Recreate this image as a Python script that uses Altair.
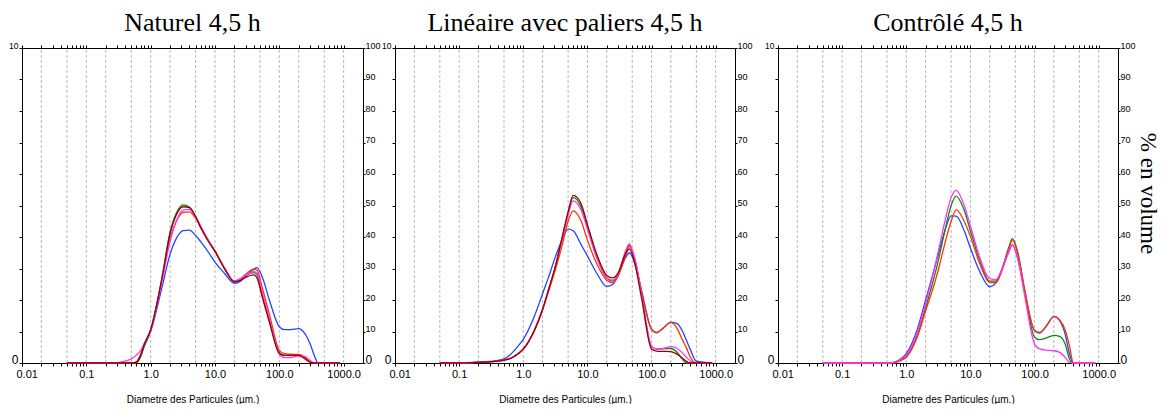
import altair as alt
import pandas as pd

# Particle diameters (µm) at which the curves are read
DIAM = [0.05, 0.1, 0.2, 0.3, 0.4, 0.5, 0.6, 0.7, 0.8, 1.0, 1.5, 2.0, 2.5, 3.2, 4.0, 5.0,
        6.0, 8.0, 10, 14, 20, 25, 30, 40, 45, 55, 70, 100, 120, 150, 200, 250, 300,
        350, 400, 500, 880]

SERIES = ["Mesure 1", "Mesure 2", "Mesure 3", "Mesure 4", "Mesure 5"]
COLORS = ["#2244ff", "#118811", "#ff3300", "#ff33ff", "#990000"]

# Naturel 4,5 h
N_BLUE = [0, 0, 0, 0, 0, 0, 0.2, 2.5, 5.5, 10, 24, 34.5, 39.5, 42, 42.2, 40.5, 38.5, 35, 32,
          28.5, 25.3, 26, 27.5, 29.8, 30.3, 27, 20, 11.5, 10.6, 10.6, 10.9, 9.3, 6.2, 2.4, 0, 0, 0]
N_GREEN = [0, 0, 0, 0, 0, 0, 0.1, 2, 5.5, 10.5, 27, 41.5, 47.5, 50.2, 49.5, 46.5, 43, 38.5, 35.5,
           30, 25.8, 26.5, 27.8, 28.7, 28, 21, 13.5, 3.4, 2.4, 2.5, 2.5, 1.6, 0.4, 0, 0, 0, 0]
N_RED = [0, 0, 0, 0, 0, 0, 0.4, 2.6, 6, 10.5, 26.5, 39.5, 45, 47.8, 48, 46, 43, 38.5, 35.5,
         30.2, 26, 26.8, 28.2, 29.8, 29.5, 23.5, 15.5, 4, 3, 2.8, 2.7, 1.8, 0.4, 0, 0, 0, 0]
N_MAG = [0, 0, 0, 0.1, 0.6, 1.3, 2.5, 4, 6.3, 10.5, 26, 38.5, 45, 48.5, 48.8, 46.5, 43.5, 38.8, 35.5,
         30.3, 26, 26.7, 27.8, 29, 28.5, 22, 14, 2.9, 1.7, 1.7, 2.3, 2.1, 0.8, 0.1, 0, 0, 0]
N_DARK = [0, 0, 0, 0, 0, 0, 0.3, 2.5, 6, 10.5, 27, 41, 47, 49.6, 49.3, 46.5, 43, 38.5, 35.5,
          30, 25.8, 26.2, 27.2, 28, 27, 20.5, 13, 3, 2.4, 2.4, 2.4, 1.3, 0.3, 0, 0, 0, 0]

# Linéaire avec paliers 4,5 h
L_BLUE = [0, 0.1, 0.3, 0.5, 0.8, 1.3, 2.3, 3.6, 5, 7.5, 15, 22, 27.5, 34, 39, 42.5, 42, 37.5, 34,
          28.5, 24.3, 25, 28, 33.7, 35, 31.5, 23, 10.7, 9.7, 11, 13, 12.5, 10.3, 7.2, 4.4, 0.6, 0]
L_GREEN = [0, 0, 0.2, 0.4, 0.6, 0.9, 1.3, 1.9, 2.7, 4.4, 10.5, 17, 23.5, 31, 39.5, 47.5, 52.5, 49.5, 43,
           33.5, 27, 26, 28, 35.5, 37.3, 32.5, 21.5, 5.2, 4.5, 4.5, 4.6, 3.4, 1.3, 0, 0, 0, 0]
L_RED = [0, 0, 0.2, 0.4, 0.6, 0.9, 1.3, 2, 2.8, 4.5, 10.5, 17, 23, 30, 37, 45, 48.3, 45, 39,
         31.5, 26.3, 25.5, 27.5, 34.5, 37, 33, 22.5, 10.7, 9.6, 11, 12.8, 11, 7.5, 4.8, 2, 0, 0]
L_MAG = [0, 0, 0.2, 0.4, 0.6, 0.9, 1.3, 1.9, 2.7, 4.4, 10.5, 17, 23.5, 31, 39, 47, 51.5, 48.5, 42.5,
         33.5, 27, 26.3, 28.2, 36, 37.9, 33, 21.5, 5.3, 4.4, 4.6, 5.2, 4.6, 3.3, 1.8, 0.7, 0, 0]
L_DARK = [0, 0, 0.2, 0.4, 0.6, 0.9, 1.3, 1.9, 2.7, 4.4, 10.5, 17, 23.5, 31, 39.5, 48, 53.2, 50.5, 44,
          34.5, 27.8, 27, 28.5, 35, 36.2, 31.5, 20.5, 4.4, 3.8, 3.7, 3.6, 2.8, 1.6, 0.5, 0, 0, 0]

# Contrôlé 4,5 h
C_BLUE = [0, 0, 0, 0, 0, 0, 0.1, 0.5, 1.2, 3, 11, 20, 27, 35, 42, 46.7, 46.6, 42, 36.5,
          29, 24.2, 25.5, 29, 35.5, 37.5, 33, 22.5, 10.3, 9.5, 11.5, 14.7, 13.2, 9.2, 2.9, 0, 0, 0]
C_GREEN = [0, 0, 0, 0, 0, 0, 0, 0.3, 0.9, 2, 9, 17.5, 24.5, 33, 42, 50, 53, 48.5, 42,
           32.5, 26, 26, 29, 37, 39.5, 35, 23, 8.2, 7.4, 7.9, 8.8, 8.4, 6, 1.3, 0, 0, 0]
C_RED = [0, 0, 0, 0, 0, 0, 0, 0.2, 0.7, 1.8, 8.5, 16.5, 22.5, 30, 38, 45, 48.6, 45, 40.2,
         31.5, 25.5, 25.5, 28.5, 36.5, 39, 34.5, 23.5, 10.3, 9.7, 11.5, 14.8, 13.5, 10.5, 5.5, 0.2, 0, 0]
C_MAG = [0, 0, 0, 0, 0, 0, 0.1, 0.4, 1.1, 2.5, 10, 19, 26.5, 36, 45, 52.5, 54.8, 50, 43.5,
         33.5, 26.8, 26.5, 29, 35.5, 37.6, 33, 21.5, 6, 4.5, 4.1, 3.9, 3.3, 1.8, 0.2, 0, 0, 0]

TITLES = ["Naturel 4,5 h", "Linéaire avec paliers 4,5 h", "Contrôlé 4,5 h"]
X_TITLE = "Diametre des Particules (µm.)"
Y_RIGHT_TITLE = "% en volume"

GRID_VALUES = [0.02, 0.05, 0.1, 0.2, 0.5, 1, 2, 5, 10, 20, 50, 100, 200, 500, 1000]
MINOR_TICKS = [round(k * 10.0 ** e, 6) for e in range(-2, 3) for k in range(1, 10)] + [1000]
XLABEL_VALUES = [0.01, 0.1, 1, 10, 100, 1000]
XLABEL_TEXT = ["0.01", "0.1", "1.0", "10.0", "100.0", "1000.0"]
Y_TICKS = list(range(0, 101, 10))
X_DOMAIN = [0.01, 2000]
Y_DOMAIN = [0, 100]

FONT = "Liberation Sans"
SERIF = "Liberation Serif"


def long_df(series):
    rows = []
    for name, vals in series.items():
        for d, v in zip(DIAM, vals):
            rows.append({"d": d, "v": v, "serie": name})
    return pd.DataFrame(rows)


label_expr = " : ".join(
    f"datum.value == {v} ? '{t}'" for v, t in zip(XLABEL_VALUES, XLABEL_TEXT)) + " : ''"


def panel(title, series, w, h, right_title=None, left_gap=False):
    xs = alt.Scale(type="log", domain=X_DOMAIN, nice=False)
    ys = alt.Scale(domain=Y_DOMAIN, nice=False)
    gdf = pd.DataFrame({"g": GRID_VALUES, "y0": Y_DOMAIN[0], "y1": Y_DOMAIN[1]})
    tdf = pd.DataFrame({"t": MINOR_TICKS, "y0": Y_DOMAIN[0]})
    ydf = pd.DataFrame({"y": Y_TICKS, "x0": X_DOMAIN[1]})

    bottom_axis = alt.Axis(orient="bottom", values=MINOR_TICKS, labelExpr=label_expr,
                           labelOverlap=False, labelFontSize=11, labelFont=FONT,
                           labelColor="black", labelPadding=2, tickSize=3,
                           labelFlushOffset=6,
                           title=X_TITLE, titleFont=FONT, titleFontSize=10,
                           titleFontWeight="normal", titleColor="black", titlePadding=15,
                           grid=False)
    top_axis = alt.Axis(orient="top", values=MINOR_TICKS, labels=False, tickSize=3,
                        title=None, grid=False)
    left_kwargs = dict(orient="left", values=Y_TICKS,
                       labelExpr="datum.value == 100 ? '10' : datum.value == 0 ? '0' : ''",
                       labelFontSize={"condition": {"test": "datum.value == 0", "value": 12},
                                      "value": 8.5},
                       labelBaseline="alphabetic", labelPadding=1, tickSize=3,
                       labelFont=FONT, labelColor="black", labelOverlap=False, grid=False)
    if left_gap:
        left_axis = alt.Axis(title="|", titleFontSize=8, titleOpacity=0, titlePadding=3,
                             **left_kwargs)
    else:
        left_axis = alt.Axis(title=None, **left_kwargs)
    right_kwargs = dict(orient="right", values=Y_TICKS,
                        labelFontSize={"condition": {"test": "datum.value == 0", "value": 12},
                                       "value": 9},
                        labelBaseline="alphabetic", labelPadding=0, tickSize=2,
                        labelFont=FONT, labelColor="black", labelOverlap=False, grid=False)
    if right_title:
        right_axis = alt.Axis(title=right_title, titleFont=SERIF, titleFontSize=23,
                              titleFontWeight="normal", titleColor="black", titleAngle=90,
                              titleAlign="center", titleBaseline="middle",
                              titleX=29, titleY=145, **right_kwargs)
    else:
        right_axis = alt.Axis(title=None, **right_kwargs)

    grid = alt.Chart(gdf).mark_rule(color="#b8b8b8", strokeDash=[3, 2], strokeWidth=1).encode(
        x=alt.X("g:Q", scale=xs, axis=None),
        y=alt.Y("y0:Q", scale=ys, axis=None), y2="y1:Q")
    bottom = alt.Chart(tdf).mark_point(opacity=0).encode(
        x=alt.X("t:Q", scale=xs, axis=bottom_axis),
        y=alt.Y("y0:Q", scale=ys, axis=None))
    top = alt.Chart(tdf).mark_point(opacity=0).encode(
        x=alt.X("t:Q", scale=xs, axis=top_axis),
        y=alt.Y("y0:Q", scale=ys, axis=None))
    lines = alt.Chart(long_df(series)).mark_line(interpolate="monotone", strokeWidth=1.3).encode(
        x=alt.X("d:Q", scale=xs, axis=None),
        y=alt.Y("v:Q", scale=ys, axis=left_axis),
        color=alt.Color("serie:N", scale=alt.Scale(domain=SERIES, range=COLORS), legend=None),
        order=alt.Order("d:Q"))
    right = alt.Chart(ydf).mark_point(opacity=0).encode(
        x=alt.X("x0:Q", scale=xs, axis=None),
        y=alt.Y("y:Q", scale=ys, axis=right_axis))

    return alt.layer(grid, lines, bottom, top, right).resolve_axis(
        x="independent", y="independent").properties(
        width=w, height=h,
        title=alt.TitleParams(title, font=SERIF, fontSize=26, fontWeight="normal",
                              color="black", anchor="middle", offset=5))


p1 = panel(TITLES[0], {"Mesure 1": N_BLUE, "Mesure 2": N_GREEN, "Mesure 3": N_RED,
                       "Mesure 4": N_MAG, "Mesure 5": N_DARK}, 341, 315)
p2 = panel(TITLES[1], {"Mesure 1": L_BLUE, "Mesure 2": L_GREEN, "Mesure 3": L_RED,
                       "Mesure 4": L_MAG, "Mesure 5": L_DARK}, 340, 315)
p3 = panel(TITLES[2], {"Mesure 1": C_BLUE, "Mesure 2": C_GREEN, "Mesure 3": C_RED,
                       "Mesure 4": C_MAG}, 340, 315, right_title=Y_RIGHT_TITLE, left_gap=True)

chart = alt.hconcat(p1, p2, p3, spacing=0).properties(
    padding={"left": 0, "top": 2, "right": 0, "bottom": 0}
).configure_view(stroke=None).configure_axis(
    domainColor="black", tickColor="black", domainWidth=1, tickWidth=1
)

chart.save("out.html", embed_options={"renderer": "svg", "actions": False})
